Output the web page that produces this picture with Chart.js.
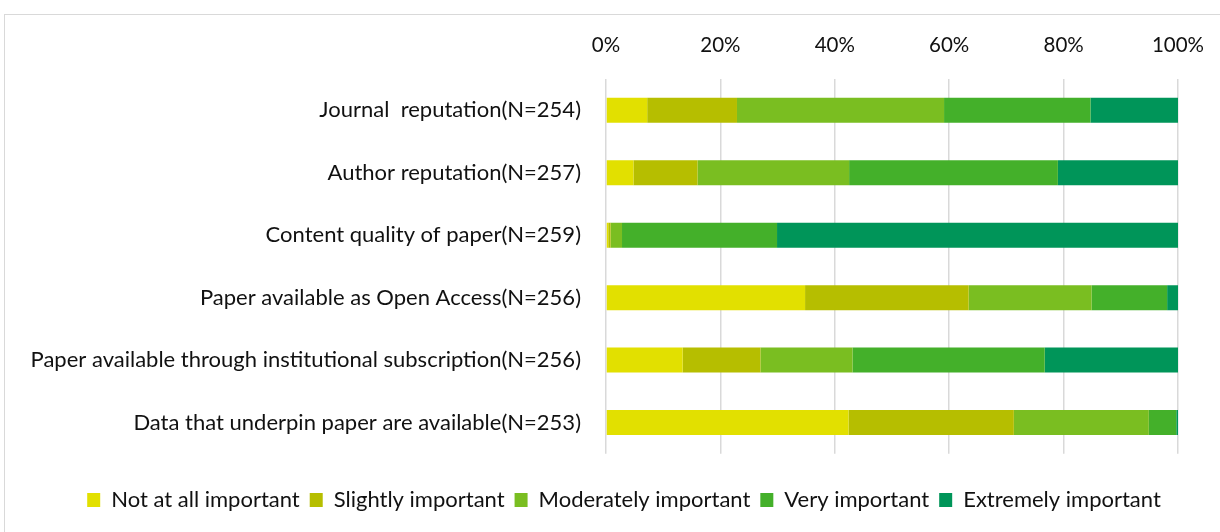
<!DOCTYPE html>
<html>
<head>
<meta charset="utf-8">
<script src="https://cdn.jsdelivr.net/npm/chart.js@4/dist/chart.umd.min.js"></script>
<style>
  body { margin: 0; background: #fff; }
  #frame { position: absolute; left: 4px; top: 14px; width: 1240px; height: 540px; border: 1px solid #d9d9d9; }
  #wrap { position: absolute; left: 0; top: 0; width: 1220px; height: 532px; }
</style>
</head>
<body>
<div id="frame"></div>
<div id="wrap"><canvas id="chart" width="1220" height="532"></canvas></div>
<script>
// categories (top to bottom)
var categories = [
  "Journal  reputation(N=254)",
  "Author reputation(N=257)",
  "Content quality of paper(N=259)",
  "Paper available as Open Access(N=256)",
  "Paper available through institutional subscription(N=256)",
  "Data that underpin paper are available(N=253)"
];
// percentages per answer
var notAtAll   = [7.2, 4.8, 0.4, 34.8, 13.4, 42.4];
var slightly   = [15.7, 11.2, 0.4, 28.6, 13.6, 28.9];
var moderately = [36.2, 26.5, 2.0, 21.5, 16.1, 23.6];
var very       = [25.6, 36.5, 27.1, 13.2, 33.6, 4.8];
var extremely  = [15.3, 21.0, 70.1, 1.9, 23.3, 0.3];
var tickLabels = ["0%", "20%", "40%", "60%", "80%", "100%"];

var fontName = "Lato, 'Open Sans', sans-serif";

// shift the legend so it is centred like the original
var legendShift = {
  id: 'legendShift',
  afterLayout: function (chart) {
    chart.legend.left += 60;
  }
};

new Chart(document.getElementById("chart"), {
  type: 'bar',
  data: {
    labels: categories,
    datasets: [
      { label: "Not at all important", backgroundColor: "#e2e000", data: notAtAll },
      { label: "Slightly important", backgroundColor: "#b6be00", data: slightly },
      { label: "Moderately important", backgroundColor: "#7abe21", data: moderately },
      { label: "Very important", backgroundColor: "#44b02a", data: very },
      { label: "Extremely important", backgroundColor: "#009559", data: extremely }
    ]
  },
  plugins: [legendShift],
  options: {
    indexAxis: 'y',
    responsive: false,
    animation: false,
    devicePixelRatio: 1,
    layout: { padding: { left: 10, right: 42, top: 0, bottom: 11 } },
    datasets: { bar: { categoryPercentage: 1, barPercentage: 0.4 } },
    scales: {
      x: {
        stacked: true,
        position: 'top',
        min: 0,
        max: 100,
        afterFit: function (s) { s.height = 79; s.paddingLeft = 0; s.paddingRight = 0; },
        grid: { color: '#d9d9d9', lineWidth: 1.5, drawTicks: false },
        border: { display: false },
        ticks: {
          stepSize: 20,
          padding: 21,
          color: '#111',
          font: { family: fontName, size: 20.5 },
          callback: function (v, i) { return tickLabels[i]; }
        }
      },
      y: {
        stacked: true,
        afterFit: function (s) { s.width = 606 - 10; },
        grid: { display: false },
        border: { display: false },
        ticks: { padding: 17, color: '#111', font: { family: fontName, size: 22 } }
      }
    },
    plugins: {
      tooltip: { enabled: false },
      legend: {
        position: 'bottom',
        title: { display: true, text: '', font: { size: 1 }, padding: { top: 24, bottom: 0 } },
        labels: {
          boxWidth: 13,
          boxHeight: 14,
          padding: 10,
          color: '#111',
          font: { family: fontName, size: 22 }
        }
      }
    }
  }
});
</script>
</body>
</html>
